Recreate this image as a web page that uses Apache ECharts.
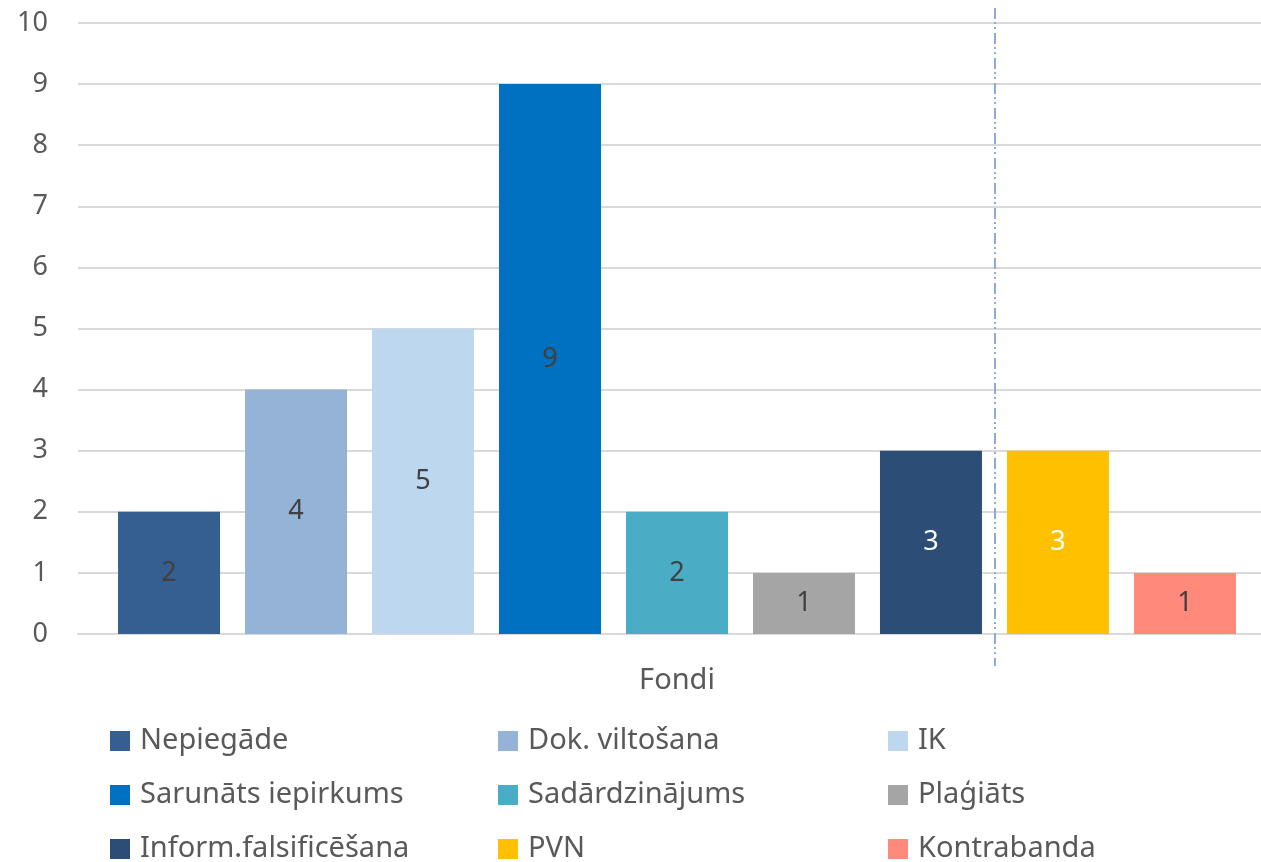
<!DOCTYPE html>
<html>
<head>
<meta charset="utf-8">
<script src="https://cdn.jsdelivr.net/npm/echarts@6/dist/echarts.min.js"></script>
<style>html,body{margin:0;padding:0;background:#fff;}#c{width:1261px;height:862px;}</style>
</head>
<body>
<div id="c"></div>
<script>
const categories = ['Fondi'];
const seriesNames = ['Nepiegāde','Dok. viltošana','IK','Sarunāts iepirkums','Sadārdzinājums','Plaģiāts','Inform.falsificēšana','PVN','Kontrabanda'];
const seriesValues = [2, 4, 5, 9, 2, 1, 3, 3, 1];
const seriesColors = ['#355f91','#95b3d7','#bdd7ee','#0070c0','#4bacc6','#a5a5a5','#2c4d75','#ffc000','#ff897a'];
const labelColors = ['#404040','#404040','#404040','#404040','#404040','#404040','#ffffff','#ffffff','#404040'];
const yTicks = {min: 0, max: 10, interval: 1};

const FONT = '"Noto Sans", "Open Sans", sans-serif';
const chart = echarts.init(document.getElementById('c'), null, {renderer: 'canvas'});

const series = seriesNames.map((n, i) => ({
  name: n,
  type: 'bar',
  data: [seriesValues[i]],
  barWidth: 102,
  barGap: '24.5%',
  itemStyle: {color: seriesColors[i]},
  label: {show: true, position: 'inside', color: labelColors[i], fontSize: 27, fontFamily: FONT},
  emphasis: {disabled: true}
}));

const colLeft = [110, 498, 888];
const rowCenter = [741, 795, 849];
const legends = seriesNames.map((n, i) => ({
  orient: 'horizontal',
  left: colLeft[i % 3],
  top: rowCenter[Math.floor(i / 3)] - 15,
  data: [n], icon: 'rect', itemWidth: 20, itemHeight: 20,
  selectedMode: false,
  textStyle: {fontSize: 29, color: '#595959', fontFamily: FONT, lineHeight: 30, padding: [0,0,0,5]},
  padding: 0
}));

chart.setOption({
  animation: false,
  backgroundColor: '#fff',
  grid: {left: 78, right: -15, top: 23, bottom: 228, outerBoundsMode: 'none', containLabel: false},
  legend: legends,
  xAxis: {
    type: 'category', data: categories,
    axisLine: {show: true, lineStyle: {color: '#d9d9d9', width: 2}},
    axisTick: {show: false},
    axisLabel: {fontSize: 29, color: '#595959', fontFamily: FONT, margin: 32}
  },
  yAxis: {
    type: 'value', min: yTicks.min, max: yTicks.max, interval: yTicks.interval,
    axisLine: {show: false}, axisTick: {show: false},
    splitLine: {lineStyle: {color: '#d9d9d9', width: 2}},
    axisLabel: {fontSize: 27, color: '#595959', fontFamily: FONT, margin: 30}
  },
  graphic: [{
    type: 'line', silent: true, z: 10,
    shape: {x1: 995, y1: 8, x2: 995, y2: 666},
    style: {stroke: '#8eaadb', lineWidth: 2, lineDash: [11, 3, 2, 3, 2, 4]}
  }],
  series: series
});
</script>
</body>
</html>
